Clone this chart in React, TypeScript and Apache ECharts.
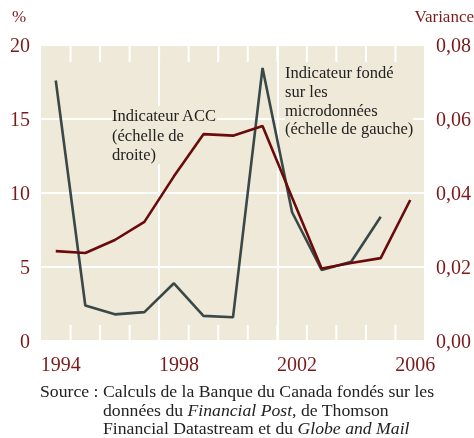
import React, { useEffect, useRef } from "react";
import * as echarts from "echarts";

const years = ["1994", "1995", "1996", "1997", "1998", "1999", "2000", "2001", "2002", "2003", "2004", "2005", "2006"];
const microValues = [17.6, 2.4, 1.8, 1.95, 3.9, 1.7, 1.6, 18.45, 8.7, 4.8, 5.35, 8.4, null];
const accValues = [0.0243, 0.0238, 0.0273, 0.0322, 0.0445, 0.0559, 0.0555, 0.0581, 0.0388, 0.0196, 0.0211, 0.0224, 0.0381];

const FONT = "'Liberation Serif', 'DejaVu Serif', serif";
const RED = "#7a1a1a";
const TXT = "#222222";
const BG = "#EEE9D8";

export default function App() {
  const ref = useRef<HTMLDivElement>(null);
  useEffect(() => {
    if (!ref.current) return;
    const chart = echarts.init(ref.current, undefined, { renderer: "svg" });
    chart.setOption({
      animation: false,
      grid: {
        left: 41,
        right: 49,
        top: 45,
        bottom: 97,
        show: true,
        backgroundColor: BG,
        borderWidth: 0,
      },
      xAxis: [
        {
          type: "category",
          data: years,
          boundaryGap: true,
          position: "bottom",
          axisLine: { show: false },
          axisTick: { show: false },
          axisLabel: {
            interval: 3,
            margin: 13,
            color: RED,
            fontSize: 20,
            fontFamily: FONT,
            padding: [0, 0, 0, 10],
          },
          splitLine: {
            show: true,
            interval: (i: number) => i === 4 || i === 8,
            lineStyle: { color: "#ffffff", width: 2 },
          },
        },
      ],
      yAxis: [
        {
          type: "value",
          min: 0,
          max: 20,
          interval: 5,
          position: "left",
          axisLine: { show: false },
          axisTick: { show: false },
          axisLabel: { color: RED, fontSize: 20, fontFamily: FONT, margin: 11 },
          splitLine: { show: true, lineStyle: { color: "#ffffff", width: 2 } },
        },
        {
          type: "value",
          min: 0,
          max: 0.08,
          interval: 0.02,
          position: "right",
          axisLine: { show: false },
          axisTick: { show: false },
          axisLabel: {
            color: RED,
            fontSize: 20,
            fontFamily: FONT,
            margin: 11,
            formatter: (v: number) => v.toFixed(2).replace(".", ","),
          },
          splitLine: { show: false },
        },
      ],
      series: [
        {
          type: "custom",
          name: "ticks",
          xAxisIndex: 0,
          yAxisIndex: 0,
          data: years.map((y) => [y]),
          encode: { x: 0 },
          silent: true,
          z: 1,
          renderItem: (params: any, api: any) => {
            const idx = api.value(0);
            if (idx === 0) return null;
            const bottom = api.coord([idx, 0]);
            const top = api.coord([idx, 20]);
            const bw = api.size([1, 0])[0];
            const x = bottom[0] - bw / 2;
            const style = { stroke: "#ffffff", lineWidth: 2 };
            return {
              type: "group",
              children: [
                { type: "line", shape: { x1: x, y1: bottom[1], x2: x, y2: bottom[1] - 16 }, style },
                { type: "line", shape: { x1: x, y1: top[1], x2: x, y2: top[1] + 17 }, style },
              ],
            };
          },
        },
        {
          type: "line",
          name: "Indicateur fondé sur les microdonnées",
          data: microValues,
          xAxisIndex: 0,
          yAxisIndex: 0,
          showSymbol: false,
          lineStyle: { color: "#3a4848", width: 2.6 },
          itemStyle: { color: "#3a4848" },
          z: 3,
        },
        {
          type: "line",
          name: "Indicateur ACC",
          data: accValues,
          xAxisIndex: 0,
          yAxisIndex: 1,
          showSymbol: false,
          lineStyle: { color: "#6b0a0a", width: 2.6 },
          itemStyle: { color: "#6b0a0a" },
          z: 4,
        },
      ],
      graphic: [
        {
          type: "text",
          left: 12,
          top: 8,
          style: { text: "%", font: `17px ${FONT}`, fill: RED },
        },
        {
          type: "text",
          right: 0,
          top: 8,
          style: { text: "Variance", font: `17px ${FONT}`, fill: RED },
        },
        {
          type: "text",
          left: 112,
          top: 106,
          z: 2,
          style: {
            text: "Indicateur ACC\n(échelle de\ndroite)",
            font: `16.5px ${FONT}`,
            fill: TXT,
            lineHeight: 19.5,
            backgroundColor: BG,
          },
        },
        {
          type: "text",
          left: 285,
          top: 63,
          z: 2,
          style: {
            text: "Indicateur fondé\nsur les\nmicrodonnées\n(échelle de gauche)",
            font: `16.5px ${FONT}`,
            fill: TXT,
            lineHeight: 18.8,
            backgroundColor: BG,
          },
        },
        {
          type: "text",
          left: 40,
          top: 382,
          style: { text: "Source :", font: `17.7px ${FONT}`, fill: TXT, lineHeight: 18.6 },
        },
        {
          type: "text",
          left: 103,
          top: 382,
          style: {
            rich: {
              n: { font: `17.7px ${FONT}`, fill: TXT, lineHeight: 18.6 } as any,
              i: { font: `italic 17.7px ${FONT}`, fill: TXT, lineHeight: 18.6 } as any,
            },
            text:
              "{n|Calculs de la Banque du Canada fondés sur les}\n" +
              "{n|données du }{i|Financial Post,}{n| de Thomson}\n" +
              "{n|Financial Datastream et du }{i|Globe and Mail}",
          },
        },
      ],
    });
    return () => chart.dispose();
  }, []);
  return <div ref={ref} style={{ position: "fixed", left: 0, top: 0, width: 474, height: 438 }} />;
}
